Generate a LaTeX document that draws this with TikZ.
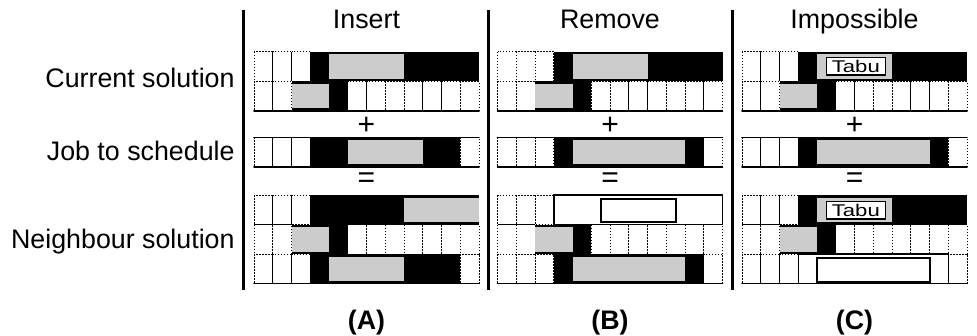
\documentclass[tikz,border=0pt]{standalone}
\usepackage{fontspec}
\setmainfont{Liberation Sans}

\newlength{\du}
\setlength{\du}{0.5pt}
\newcommand{\cw}{18.75}

\definecolor{procgray}{rgb}{0.800000, 0.800000, 0.800000}

\tikzset{
  freecell/.style={draw=black, line width=1\du, dash pattern=on 1.5\du off 1.5\du, fill=white},
  busy/.style={fill=black},
  proc/.style={fill=procgray},
  rowline/.style={line width=1.8\du, line cap=round},
  sepline/.style={line width=3\du},
  gonebox/.style={draw=black, line width=1.5\du, fill=white},
  tabubox/.style={draw=black, line width=1.2\du, fill=white, inner sep=0pt,
    minimum width=59\du, minimum height=17.5\du, font=\fontsize{8.5}{9}\selectfont},
  biglabel/.style={font=\fontsize{13.4}{16}\selectfont, inner sep=0pt},
  signlabel/.style={font=\fontsize{15}{16}\selectfont, inner sep=0pt},
  panellabel/.style={font=\fontsize{13.4}{16}\selectfont\bfseries, inner sep=0pt},
}

% dotted free cells #3..#4 of a row, panel at x=#1, row top at y=#2
\newcommand{\freecells}[4]{%
  \foreach \c in {#3,...,#4}
    \draw[freecell] ({#1+\c*\cw},#2) rectangle ({#1+(\c+1)*\cw},{#2+29.5});}
% black block from cell #3 to cell #4
\newcommand{\busy}[4]{%
  \fill[busy] ({#1+#3*\cw},#2) rectangle ({#1+#4*\cw},{#2+29.5});}
% grey processing part from cell #3 to cell #4
\newcommand{\proc}[4]{%
  \fill[proc] ({#1+#3*\cw},{#2+2.5}) rectangle ({#1+#4*\cw},{#2+27});}

\begin{document}
\begin{tikzpicture}[x=1\du, y=1\du]
\pgftransformxscale{1.000000}
\pgftransformyscale{-1.000000}
\useasboundingbox (0,0) rectangle (977,336);

% separators
\draw[sepline] (243,10) -- (243,290);
\draw[sepline] (488,10) -- (488,290);
\draw[sepline] (732.5,10) -- (732.5,290);

% rows shared by the three panels
\foreach \px in {254,497.5,742} {
  % current solution
  \freecells{\px}{52}{0}{2}
  \busy{\px}{52}{3}{12}
  \proc{\px}{52}{4}{8}
  \freecells{\px}{81.5}{0}{1}
  \busy{\px}{81.5}{2}{5}
  \proc{\px}{81.5}{2}{4}
  \freecells{\px}{81.5}{5}{11}
  \draw[rowline] (\px,111) -- ({\px+12*\cw},111);
  % job to schedule
  \freecells{\px}{137.5}{0}{2}
  \busy{\px}{137.5}{3}{11}
  \freecells{\px}{137.5}{11}{11}
  \draw[rowline] (\px,137.5) -- ({\px+12*\cw},137.5);
  \draw[rowline] (\px,167) -- ({\px+12*\cw},167);
  % neighbour solution
  \freecells{\px}{195}{0}{2}
  \freecells{\px}{224.5}{0}{1}
  \busy{\px}{224.5}{2}{5}
  \proc{\px}{224.5}{2}{4}
  \freecells{\px}{224.5}{5}{11}
  \freecells{\px}{254}{0}{2}
  \freecells{\px}{254}{11}{11}
}

% (A) insert
\proc{254}{137.5}{5}{9}
\busy{254}{195}{3}{12}
\proc{254}{195}{8}{12}
\busy{254}{254}{3}{11}
\proc{254}{254}{4}{8}

% (B) remove
\proc{497.5}{137.5}{4}{10}
\draw[gonebox] ({497.5+3*\cw},195) rectangle ({497.5+12*\cw},224.5);
\draw[line width=2\du] ({497.5+5.5*\cw},198.5) rectangle ({497.5+9.5*\cw},222);
\busy{497.5}{254}{3}{11}
\proc{497.5}{254}{4}{10}

% (C) impossible
\proc{742}{137.5}{4}{10}
\busy{742}{195}{3}{12}
\proc{742}{195}{4}{8}
\node[tabubox] (tabucur) at ({742+6.07*\cw},66.2) {\scalebox{1.3}[1]{Tabu}};
\node[tabubox] (tabunb) at ({742+6.07*\cw},210.3) {\scalebox{1.3}[1]{Tabu}};
\draw[gonebox] ({742+3*\cw},254) rectangle ({742+11*\cw},283.5);
\draw[line width=2\du] ({742+4*\cw},257.5) rectangle ({742+10*\cw},281.5);

\foreach \px in {254,497.5,742}
  \draw[rowline] (\px,283.5) -- ({\px+12*\cw},283.5);

% setfont labels
\node[biglabel, anchor=base east] (curlabel) at (235,87.5) {Current solution};
\node[biglabel, anchor=base east] (joblabel) at (235,160.5) {Job to schedule};
\node[biglabel, anchor=base east] (nblabel) at (235,248.5) {Neighbour solution};

\node[biglabel, anchor=base] (insertlabel) at (366.5,29) {Insert};
\node[biglabel, anchor=base] (removelabel) at (610,29) {Remove};
\node[biglabel, anchor=base] (impossiblelabel) at (854.5,29) {Impossible};

\foreach \px/\nm in {366.5/a,610/b,854.5/c} {
  \node[signlabel] (plus\nm) at (\px,125.5) {+};
  \node[signlabel] (equals\nm) at (\px,180) {=};
}

\node[panellabel, anchor=base] (panela) at (366.5,329) {(A)};
\node[panellabel, anchor=base] (panelb) at (610,329) {(B)};
\node[panellabel, anchor=base] (panelc) at (854.5,329) {(C)};
\end{tikzpicture}
\end{document}
